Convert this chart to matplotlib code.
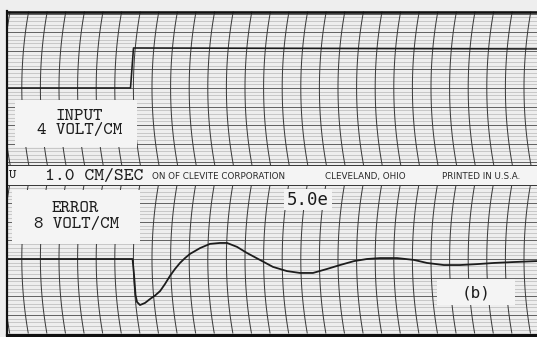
import numpy as np
import matplotlib
matplotlib.use("Agg")
import matplotlib.pyplot as plt
from matplotlib.patches import Rectangle

# Recorder settings printed on the chart
CHART_SPEED = 1.0      # cm per second
INPUT_SCALE = 4.0      # volt per cm
ERROR_SCALE = 8.0      # volt per cm

# Input channel: step applied at t = 0 (seconds, volts)
input_t = [-6.7, -0.08, 0.08, 21.8]
input_v = [0.0, 0.0, 8.6, 8.4]

# Error channel response (seconds, volts)
error_t = [-6.7, -0.05, 0.03, 0.11, 0.19, 0.27, 0.43, 0.70, 0.97, 1.24,
           1.51, 1.77, 2.04, 2.31, 2.58, 2.85, 3.12, 3.66, 4.19, 4.73,
           5.11, 5.65, 6.18, 6.88, 7.58, 8.33, 9.03, 9.73, 10.48, 11.18,
           11.94, 12.63, 13.33, 14.25, 15.16, 15.86, 16.77, 17.63, 18.55,
           19.46, 20.54, 21.77]
error_v = [0.0, 0.0, 0.0, -6.9, -15.5, -18.5, -19.8, -18.9, -17.2, -15.7,
           -13.8, -10.8, -7.3, -4.3, -1.7, 0.4, 2.2, 4.7, 6.5, 6.9,
           6.9, 5.2, 2.6, -0.4, -3.4, -5.2, -6.0, -6.0, -4.3, -2.6,
           -0.9, 0.0, 0.4, 0.4, -0.4, -1.7, -2.6, -2.6, -2.2,
           -1.7, -1.3, -0.9]

input_label = ["INPUT", "4 VOLT/CM"]
error_label = ["ERROR", "8 VOLT/CM"]
speed_label = "1.0 CM/SEC"
gain_label = "5.0e"
panel_label = "(b)"
imprint = ["ON OF CLEVITE CORPORATION", "CLEVELAND, OHIO", "PRINTED IN U.S.A."]

# ---- paper geometry (pixels) ----
W, H, DPI = 537, 337, 100
DIV = 18.6                 # one centimetre of chart paper
MINOR = DIV / 5
LEFT = 7
TOP_Y0, TOP_Y1, TOP_ZERO = 12, 165, 88
BOT_Y0, BOT_Y1, BOT_ZERO = 185, 333, 259
STEP_X = 132               # pen position at t = 0
ARC_R = 430                # pen arm radius
GRID_PHASE = 3.2
PX = 0.72                  # points per pixel

PAPER = "#eeeeee"
CARD = "#f4f4f4"
INK = "#1c1c1c"
TYPE = "cmtt10"            # typewriter face shipped with matplotlib

fig = plt.figure(figsize=(W / DPI, H / DPI), dpi=DPI, facecolor=PAPER)
bg = fig.add_axes([0, 0, 1, 1])
bg.set_xlim(0, W)
bg.set_ylim(H, 0)
bg.axis("off")
bg.set_facecolor(PAPER)


def draw_grid(y0, y1, yc):
    # fine horizontal rulings
    k0 = int(np.ceil((y0 - yc) / MINOR))
    k1 = int(np.floor((y1 - yc) / MINOR))
    for k in range(k0, k1 + 1):
        y = yc + k * MINOR
        major = (k % 5 == 0)
        bg.plot([LEFT, W], [y, y],
                color="#555555" if major else "#b9b9b9",
                lw=(0.9 if major else 0.7) * PX, zorder=1,
                solid_capstyle="butt")
    # curvilinear time lines
    ys = np.linspace(y0, y1, 120)
    for xv in np.arange(GRID_PHASE, W + 30, DIV):
        xs = xv + ARC_R - np.sqrt(ARC_R ** 2 - (ys - yc) ** 2)
        xs = np.where(xs >= LEFT, xs, np.nan)
        bg.plot(xs, ys, color="#3a3a3a", lw=1.0 * PX, zorder=2)


draw_grid(TOP_Y0, TOP_Y1, TOP_ZERO)
draw_grid(BOT_Y0, BOT_Y1, BOT_ZERO)

# imprint strip between the channels
bg.add_patch(Rectangle((LEFT, TOP_Y1 + 0.5), W - LEFT, BOT_Y0 - TOP_Y1 - 1,
                       facecolor=CARD, edgecolor="none", zorder=3))
for y in (TOP_Y1, BOT_Y0):
    bg.plot([LEFT, W], [y, y], color="#3a3a3a", lw=1.0 * PX, zorder=4)

# label cards
cards = [(15, 100, 122, 47), (12, 190, 128, 54), (284, 189, 48, 21),
         (437, 279, 78, 26)]
for x, y, w, h in cards:
    bg.add_patch(Rectangle((x, y), w, h, facecolor=CARD, edgecolor="none",
                           zorder=5))

# frame
bg.plot([LEFT, W], [12, 12], color="#111111", lw=2.6 * PX, zorder=6)
bg.plot([LEFT, LEFT], [11, 335], color="#111111", lw=2.2 * PX, zorder=6)
bg.plot([LEFT, W], [334.5, 334.5], color="#111111", lw=3.2 * PX, zorder=6)

bg.text(79, 116, input_label[0], family=TYPE, fontsize=13, color=INK,
        ha="center", va="center", zorder=7)
bg.text(80, 131, input_label[1], family=TYPE, fontsize=13, color=INK,
        ha="center", va="center", zorder=7)
bg.text(75, 209, error_label[0], family=TYPE, fontsize=13, color=INK,
        ha="center", va="center", zorder=7)
bg.text(77, 224, error_label[1], family=TYPE, fontsize=13, color=INK,
        ha="center", va="center", zorder=7)
bg.text(45, 176, speed_label, family=TYPE, fontsize=13.5, color=INK,
        ha="left", va="center", zorder=7)
bg.text(9, 176, "U", family=TYPE, fontsize=10, color=INK,
        ha="left", va="center", zorder=7)
bg.text(308, 200, gain_label, family="DejaVu Sans Mono", fontsize=12.5,
        color=INK, ha="center", va="center", zorder=7)
bg.text(476, 293, panel_label, family="DejaVu Sans Mono", fontsize=11.5,
        color=INK, ha="center", va="center", zorder=7)

for x, s in zip((152, 325, 442), imprint):
    bg.text(x, 176.5, s, family="DejaVu Sans", fontsize=6.3, color="#2a2a2a",
            ha="left", va="center", zorder=7)


# ---- channel axes in seconds and volts ----
def channel_axes(y0, y1, zero, scale):
    ax = fig.add_axes([LEFT / W, 1 - y1 / H, (W - LEFT) / W, (y1 - y0) / H])
    ax.set_xlim((LEFT - STEP_X) / (DIV * CHART_SPEED),
                (W - STEP_X) / (DIV * CHART_SPEED))
    ax.set_ylim((zero - y1) / DIV * scale, (zero - y0) / DIV * scale)
    ax.axis("off")
    ax.patch.set_alpha(0)
    return ax


ax_in = channel_axes(TOP_Y0, TOP_Y1, TOP_ZERO, INPUT_SCALE)
ax_in.plot(input_t, input_v, color=INK, lw=1.6 * PX,
           solid_joinstyle="round", zorder=10)

ax_err = channel_axes(BOT_Y0, BOT_Y1, BOT_ZERO, ERROR_SCALE)
ax_err.plot(error_t, error_v, color=INK, lw=1.8 * PX,
            solid_joinstyle="round", zorder=10)

fig.savefig("out.png", dpi=DPI, facecolor=PAPER)
